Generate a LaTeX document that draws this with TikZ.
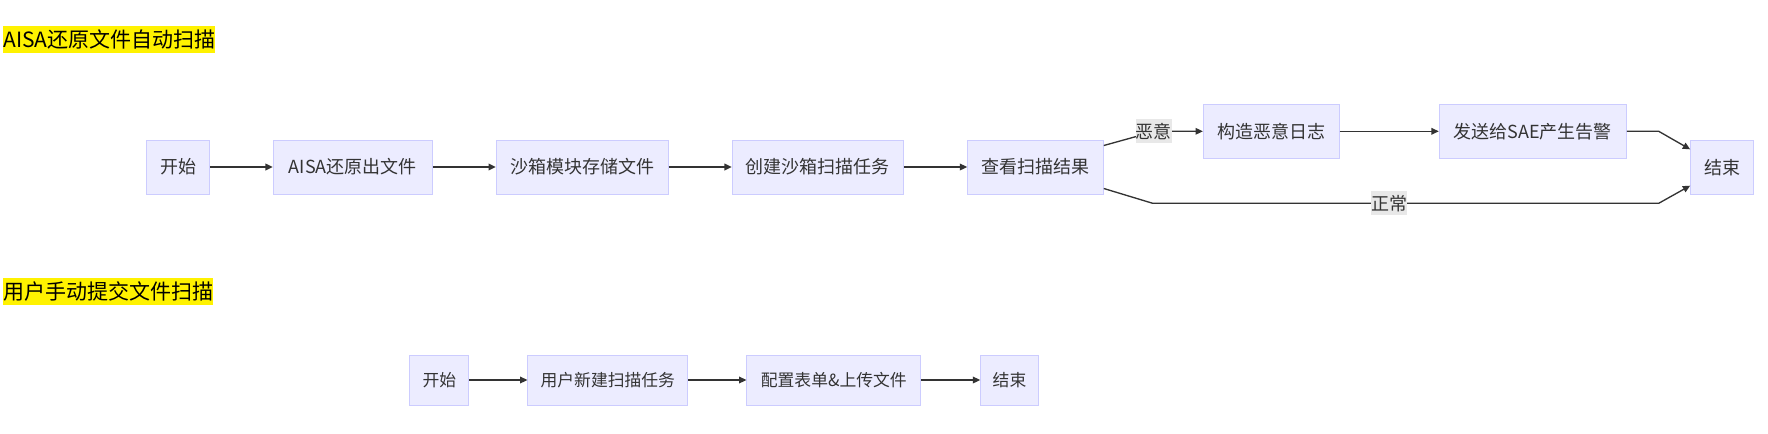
\documentclass[tikz,border=0pt]{standalone}
\usepackage{fontspec}
\setmainfont{Noto Sans CJK SC}
\usetikzlibrary{arrows.meta}
\definecolor{boxfill}{RGB}{236,236,255}
\definecolor{boxline}{RGB}{204,204,255}
\definecolor{txtgray}{RGB}{51,51,51}
\definecolor{lblfill}{RGB}{232,232,232}

\begin{document}
\begin{tikzpicture}[x=0.75pt,y=0.75pt,yscale=-1,xscale=1,
  flowbox/.style={draw=boxline,fill=boxfill,line width=0.75pt,text=txtgray,inner sep=0pt,minimum height=40.5pt,font=\fontsize{13.5}{16}\selectfont},
  flowboxb/.style={flowbox,minimum height=37.5pt,font=\fontsize{12.6}{15}\selectfont},
  flowline/.style={draw=txtgray,line width=1pt,-{Triangle[length=5.5pt,width=5pt]}},
  edgelabel/.style={fill=lblfill,text=txtgray,inner sep=0pt,minimum width=27pt,minimum height=18pt,font=\fontsize{13.5}{16}\selectfont},
  heading/.style={fill=yellow,text=black,inner sep=0pt,anchor=west,minimum height=20.25pt,font=\fontsize{15.75}{18}\selectfont}]
%set diagram left start at 0, and has height of 433
\useasboundingbox (0,0) rectangle (1768,433);

% Text Node: first heading
\node [heading] (head1) at (3,39.5) {AISA还原文件自动扫描};

%Shape: Rectangle, first flow
\node [flowbox,minimum width=47pt] (start1) at (178,167) {开始};
\node [flowbox,minimum width=119.3pt] (restore) at (352.8,167) {AISA还原出文件};
\node [flowbox,minimum width=128.8pt] (store) at (582.2,167) {沙箱模块存储文件};
\node [flowbox,minimum width=128.3pt] (task1) at (817.8,167) {创建沙箱扫描任务};
\node [flowbox,minimum width=101.7pt] (result) at (1035.5,167) {查看扫描结果};
\node [flowbox,minimum width=101.8pt] (mallog) at (1271.2,131.3) {构造恶意日志};
\node [flowbox,minimum width=140.3pt] (alert) at (1532.8,131.3) {发送给SAE产生告警};
\node [flowbox,minimum width=47pt] (end1) at (1722,167.5) {结束};

% Arrows, first flow
\draw [flowline] (start1) -- (restore);
\draw [flowline] (restore) -- (store);
\draw [flowline] (store) -- (task1);
\draw [flowline] (task1) -- (result);
\draw [flowline] ([yshift=4.5pt]result.north east) -- (1155,131.3) -- (mallog.west);
\draw [flowline] (mallog) -- (alert);
\draw [flowline] (alert.east) -- (1658.7,131.3) -- ([yshift=7pt]end1.north west);
\draw [flowline] ([yshift=-4.5pt]result.south east) -- (1152.7,203.3) -- (1658.7,203.3) -- ([yshift=-7pt]end1.south west);

% Text Node: edge labels
\node [edgelabel] (malicious) at (1153.7,131.3) {恶意};
\node [edgelabel] (normal) at (1389,203.3) {正常};

% Text Node: second heading
\node [heading] (head2) at (3,291.3) {用户手动提交文件扫描};

%Shape: Rectangle, second flow
\node [flowboxb,minimum width=44pt] (start2) at (439.3,380) {开始};
\node [flowboxb,minimum width=119.8pt] (task2) at (607.8,380) {用户新建扫描任务};
\node [flowboxb,minimum width=130.3pt] (upload) at (833.8,380) {配置表单\&上传文件};
\node [flowboxb,minimum width=43.2pt] (end2) at (1009.5,380) {结束};

% Arrows, second flow
\draw [flowline] (start2) -- (task2);
\draw [flowline] (task2) -- (upload);
\draw [flowline] (upload) -- (end2);

\end{tikzpicture}
\end{document}
